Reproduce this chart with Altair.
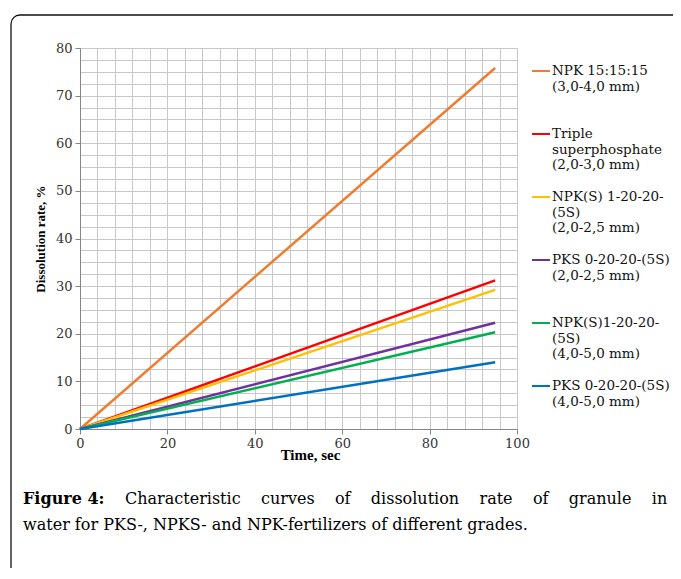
import altair as alt
import pandas as pd

# ---------------- data ----------------
time_sec = [0, 95]

npk_15_15_15 = [0.0, 75.8]
triple_superphosphate = [0.0, 31.2]
npks_1_20_20_small = [0.0, 29.2]
pks_0_20_20_small = [0.0, 22.3]
npks_1_20_20_large = [0.0, 20.3]
pks_0_20_20_large = [0.0, 14.0]

series_labels = [
    "NPK 15:15:15\n(3,0-4,0 mm)\n ",
    "Triple\nsuperphosphate\n(2,0-3,0 mm)",
    "NPK(S) 1-20-20-\n(5S)\n(2,0-2,5 mm)",
    "PKS 0-20-20-(5S)\n(2,0-2,5 mm)\n ",
    "NPK(S)1-20-20-\n(5S)\n(4,0-5,0 mm)",
    "PKS 0-20-20-(5S)\n(4,0-5,0 mm)\n ",
]
series_values = [
    npk_15_15_15,
    triple_superphosphate,
    npks_1_20_20_small,
    pks_0_20_20_small,
    npks_1_20_20_large,
    pks_0_20_20_large,
]
series_colors = ["#ED7D31", "#FF0000", "#FFC000", "#7030A0", "#00B050", "#0070C0"]

x_grid_values = list(range(0, 101, 4))
y_grid_values = [i * 2.5 for i in range(33)]

caption_bold = "Figure 4:"
caption_line1_words = ["Characteristic", "curves", "of", "dissolution", "rate", "of", "granule", "in"]
caption_line2 = "water for PKS-, NPKS- and NPK-fertilizers of different grades."

# ---------------- build table ----------------
rows = []
for label, vals in zip(series_labels, series_values):
    for t, v in zip(time_sec, vals):
        rows.append({"time": t, "rate": v, "series": label})
df = pd.DataFrame(rows)
one = pd.DataFrame({"k": [0]})

AXIS_GRAY = "#868686"
GRID = "#c8c8c8"

x_axis = alt.Axis(
    values=x_grid_values,
    labelExpr="datum.value % 20 === 0 ? format(datum.value, 'd') : ''",
    grid=True, gridColor=GRID, gridWidth=1,
    tickOpacity={"condition": {"test": "datum.value % 20 === 0", "value": 1}, "value": 0},
    tickSize=5, tickColor=AXIS_GRAY, domainColor=AXIS_GRAY,
    labelFont="DejaVu Serif", labelFontSize=13, labelColor="#333333",
    labelPadding=3, labelOverlap=False, labelFlush=False,
    title="Time, sec", titleFont="Liberation Serif", titleFontSize=15,
    titleFontWeight="bold", titleColor="black", titlePadding=-3, titleX=230,
)
y_axis = alt.Axis(
    values=y_grid_values,
    labelExpr="datum.value % 10 === 0 ? format(datum.value, 'd') : ''",
    grid=True, gridColor=GRID, gridWidth=1,
    tickOpacity={"condition": {"test": "datum.value % 10 === 0", "value": 1}, "value": 0},
    tickSize=5, tickColor=AXIS_GRAY, domainColor=AXIS_GRAY,
    labelFont="DejaVu Serif", labelFontSize=13, labelColor="#333333",
    labelPadding=3, labelOverlap=False, labelFlush=False,
    title="Dissolution rate, %", titleFont="Liberation Serif", titleFontSize=13,
    titleFontWeight="bold", titleColor="black", titlePadding=8,
)

lines = alt.Chart(df).mark_line(strokeWidth=2.5).encode(
    x=alt.X("time:Q", scale=alt.Scale(domain=[0, 100], nice=False), axis=x_axis),
    y=alt.Y("rate:Q", scale=alt.Scale(domain=[0, 80], nice=False), axis=y_axis),
    color=alt.Color(
        "series:N",
        scale=alt.Scale(domain=series_labels, range=series_colors),
        sort=series_labels,
        legend=alt.Legend(
            orient="none", legendX=451, legendY=13, title=None,
            labelFont="DejaVu Serif", labelFontSize=13.5, labelColor="#111111",
            labelLimit=400, labelExpr="split(datum.label, '\\n')",
            symbolType="stroke", symbolStrokeWidth=2, symbolSize=324,
            rowPadding=15, labelOffset=1, padding=0,
        ),
    ),
)

border = alt.Chart(one).mark_rect(
    fill=None, stroke="#111111", strokeWidth=1.3, cornerRadius=9
).encode(
    x=alt.value(-69), x2=alt.value(700), y=alt.value(-33), y2=alt.value(620)
)

cap_bold = alt.Chart(one).mark_text(
    text=caption_bold, font="DejaVu Serif", fontSize=16, fontWeight="bold",
    align="left", baseline="alphabetic", color="black"
).encode(x=alt.value(-57), y=alt.value(456))

gap = " " + "\u00a0" * 3
cap_l1 = alt.Chart(one).mark_text(
    text=gap.join(caption_line1_words), font="DejaVu Serif", fontSize=16,
    align="left", baseline="alphabetic", color="black"
).encode(x=alt.value(45), y=alt.value(456))

cap_l2 = alt.Chart(one).mark_text(
    text=caption_line2, font="DejaVu Serif", fontSize=16,
    align="left", baseline="alphabetic", color="black"
).encode(x=alt.value(-57), y=alt.value(482))

chart = alt.layer(border, lines, cap_bold, cap_l1, cap_l2).properties(
    width=437, height=381,
    padding={"left": 72, "top": 40, "right": 156, "bottom": 139},
    autosize=alt.AutoSizeParams(type="none"),
    background="white",
).configure_view(strokeWidth=0)

chart.save("out.html", embed_options={"renderer": "svg", "actions": False})
